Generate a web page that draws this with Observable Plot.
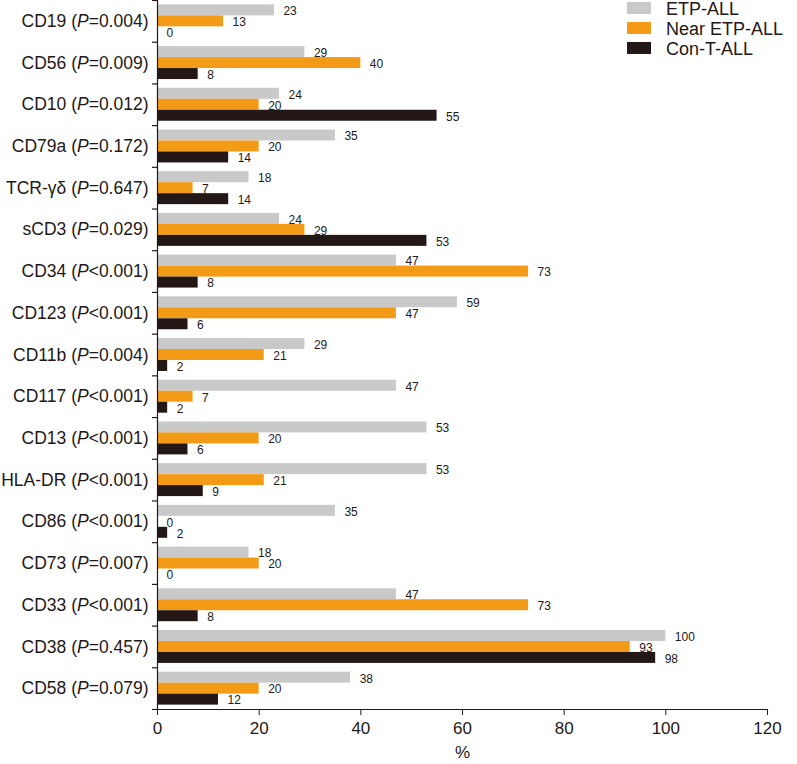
<!DOCTYPE html>
<html>
<head>
<meta charset="utf-8">
<script src="https://cdn.jsdelivr.net/npm/d3@7"></script>
<script src="https://cdn.jsdelivr.net/npm/@observablehq/plot@0.6"></script>
<style>
  body { margin: 0; background: #fff; font-family: "Liberation Sans", Arial, sans-serif; }
  #wrap { position: relative; width: 797px; height: 764px; }
  #legend { position: absolute; left: 627px; top: 0; color: #231815; font-size: 18px; }
  .row { position: absolute; left: 0; height: 20px; white-space: nowrap; }
  .sw { position: absolute; left: 0; width: 24px; height: 12px; }
  .lb { position: absolute; left: 39px; line-height: 20px; top: -3px; }
</style>
</head>
<body>
<div id="wrap"><div id="legend"></div></div>
<script>
const markers = ["CD19","CD56","CD10","CD79a","TCR-γδ","sCD3","CD34","CD123","CD11b","CD117","CD13","HLA-DR","CD86","CD73","CD33","CD38","CD58"];
const pValues = ["=0.004","=0.009","=0.012","=0.172","=0.647","=0.029","<0.001","<0.001","=0.004","<0.001","<0.001","<0.001","<0.001","=0.007","<0.001","=0.457","=0.079"];
const etpAll  = [23,29,24,35,18,24,47,59,29,47,53,53,35,18,47,100,38];
const nearEtp = [13,40,20,20, 7,29,73,47,21, 7,20,21, 0,20,73, 93,20];
const conT    = [ 0, 8,55,14,14,53, 8, 6, 2, 2, 6, 9, 2, 0, 8, 98,12];
const seriesNames = ["ETP-ALL","Near ETP-ALL","Con-T-ALL"];
const seriesColors = ["#c9c9c9","#f39b17","#231815"];
const xTicks = [0,20,40,60,80,100,120];

const labels = markers.map((m, i) => `${m} (P${pValues[i]})`);
const seriesValues = [etpAll, nearEtp, conT];
const data = [];
seriesNames.forEach((s, si) => {
  labels.forEach((c, i) => data.push({category: c, series: s, si, value: seriesValues[si][i]}));
});

const W = 797, H = 764, mt = 0, mb = 55, ml = 157, mr = 30;
const step = (H - mt - mb) / labels.length;
const pad = step * 0.105;
const bh = (step - 2 * pad) / 3;
const pxPerUnit = (W - ml - mr) / 120;
const ink = "#231815";

const marks = [];
seriesNames.forEach((s, si) => {
  const sub = data.filter(d => d.si === si);
  marks.push(Plot.barX(sub, {
    x: "value", y: "category", fill: seriesColors[si],
    insetTop: pad + si * bh, insetBottom: step - pad - (si + 1) * bh
  }));
  marks.push(Plot.text(sub, {
    x: "value", y: "category", text: d => String(d.value),
    textAnchor: "start", dx: 9, dy: -step / 2 + pad + (si + 0.5) * bh + 1,
    fontSize: 12, fill: ink
  }));
});
// band boundary ticks on the y axis
marks.push(Plot.ruleY(labels, {y: d => d, x1: -5 / pxPerUnit, x2: 0, dy: -step / 2, stroke: ink, strokeWidth: 1.2}));
marks.push(Plot.ruleY([labels[labels.length - 1]], {y: d => d, x1: -5 / pxPerUnit, x2: 0, dy: step / 2, stroke: ink, strokeWidth: 1.2}));
marks.push(Plot.frame({anchor: "left", stroke: ink, strokeWidth: 1.2}));
marks.push(Plot.frame({anchor: "bottom", stroke: ink, strokeWidth: 1.2}));
marks.push(Plot.axisX({ticks: xTicks, tickSize: 6, tickPadding: 6, fontSize: 17, label: null, stroke: ink, fill: ink}));
marks.push(Plot.axisY({tickSize: 0, tickPadding: 9, fontSize: 17.5, label: null, fill: ink}));
marks.push(Plot.text(["%"], {frameAnchor: "bottom", dy: 48, text: d => d, fontSize: 17, fill: ink}));

const chart = Plot.plot({
  width: W, height: H,
  marginTop: mt, marginBottom: mb, marginLeft: ml, marginRight: mr,
  style: {fontFamily: "'Liberation Sans', Arial, sans-serif", background: "#fff", color: ink, overflow: "visible"},
  x: {domain: [0, 120], axis: null},
  y: {domain: labels, padding: 0, round: false, axis: null},
  marks
});

// italic P inside the category labels
d3.select(chart).selectAll('g[aria-label="y-axis tick label"] text').each(function() {
  const t = d3.select(this);
  const full = t.text();
  const k = full.indexOf("(P");
  if (k < 0) return;
  t.text(null);
  t.append("tspan").text(full.slice(0, k + 1));
  t.append("tspan").attr("font-style", "italic").text("P");
  t.append("tspan").text(full.slice(k + 2));
});

document.getElementById("wrap").prepend(chart);
chart.style.position = "absolute";
chart.style.left = "0";
chart.style.top = "0";

const legend = document.getElementById("legend");
seriesNames.forEach((s, i) => {
  const row = document.createElement("div");
  row.className = "row";
  row.style.top = (2 + i * 20) + "px";
  const sw = document.createElement("div");
  sw.className = "sw";
  sw.style.background = seriesColors[i];
  const lb = document.createElement("div");
  lb.className = "lb";
  lb.textContent = s;
  row.append(sw, lb);
  legend.append(row);
});
document.getElementById("wrap").append(legend);
</script>
</body>
</html>
